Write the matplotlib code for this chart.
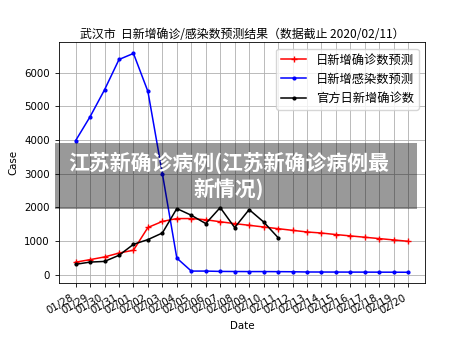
import matplotlib
matplotlib.use("Agg")
import matplotlib.pyplot as plt
import numpy as np

plt.rcParams['font.family'] = ['Noto Sans CJK SC', 'DejaVu Sans']
plt.rcParams['axes.unicode_minus'] = False

dates = ["01/28", "01/29", "01/30", "01/31", "02/01", "02/02", "02/03", "02/04",
         "02/05", "02/06", "02/07", "02/08", "02/09", "02/10", "02/11", "02/12",
         "02/13", "02/14", "02/15", "02/16", "02/17", "02/18", "02/19", "02/20"]

pred_confirmed = [370, 445, 525, 640, 725, 1400, 1580, 1665, 1665, 1630, 1570, 1515,
                  1465, 1415, 1365, 1315, 1267, 1235, 1190, 1150, 1110, 1070, 1030, 990]
pred_infected = [3980, 4690, 5490, 6390, 6570, 5440, 3000, 490, 105, 105, 95, 92,
                 90, 90, 88, 85, 78, 77, 76, 75, 74, 73, 72, 70]
official_dates = dates[:15]
official_confirmed = [306, 372, 392, 574, 900, 1040, 1237, 1962, 1763, 1516, 1992,
                      1397, 1932, 1565, 1100]

s = 0.7375
fig = plt.figure(figsize=(4.72, 3.54), dpi=100)
ax = fig.add_subplot(111)
x = np.arange(len(dates))
ax.plot(x, pred_confirmed, color='red', marker='+', markersize=4, lw=1.1,
        label='日新增确诊数预测')
ax.plot(x, pred_infected, color='blue', marker='.', markersize=4, lw=1.1,
        label='日新增感染数预测')
ax.plot(np.arange(len(official_dates)), official_confirmed, color='black', marker='.',
        markersize=4, lw=1.1, label='官方日新增确诊数')
ax.set_xticks(x)
ax.set_xticklabels(dates)
ax.grid(True, lw=0.6)
ax.tick_params(labelsize=10 * s, width=0.6, length=3)
for sp in ax.spines.values():
    sp.set_linewidth(0.6)
ax.set_xlabel('Date', fontsize=10 * s, family='DejaVu Sans')
ax.set_ylabel('Case', fontsize=10 * s, family='DejaVu Sans')
ax.set_title('武汉市  日新增确诊/感染数预测结果（数据截止 2020/02/11）', fontsize=8.6, pad=3)
ax.legend(loc='upper right', fontsize=12 * s)
fig.autofmt_xdate()
for lab in ax.get_xticklabels() + ax.get_yticklabels():
    lab.set_fontfamily('DejaVu Sans')
fig.subplots_adjust(left=0.125, right=0.9, top=0.88, bottom=0.2)

# overlay banner
fig.patches.append(plt.Rectangle((55 / 472, 1 - 209 / 354), (417 - 55) / 472, (209 - 143) / 354,
                                 transform=fig.transFigure, facecolor='black', alpha=0.4,
                                 edgecolor='none', zorder=10))
fig.text(229 / 472, 1 - 176 / 354, '江苏新确诊病例(江苏新确诊病例最\n新情况)', color='white',
         fontsize=15, fontweight='bold', ha='center', va='center', multialignment='center',
         linespacing=1.2, zorder=11)

fig.savefig('out.png', dpi=100)
